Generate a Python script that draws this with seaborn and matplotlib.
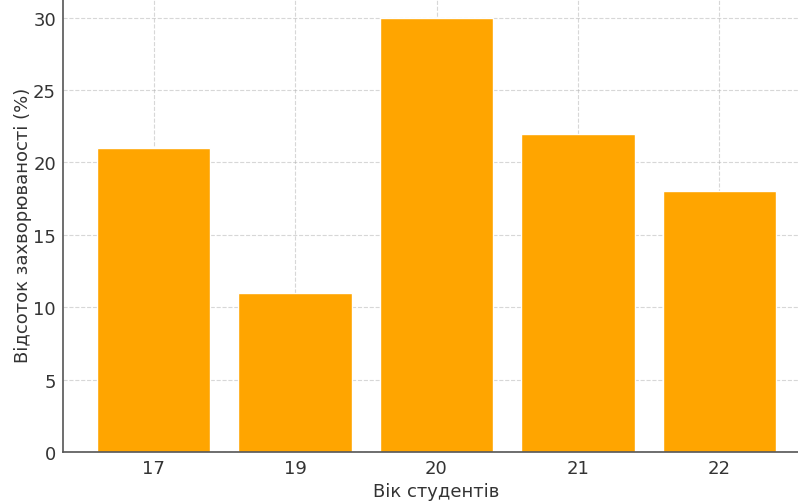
import matplotlib
matplotlib.use("Agg")
import matplotlib.pyplot as plt
import seaborn as sns
import pandas as pd

ages = ["17", "19", "20", "21", "22"]
rates = [21, 11, 30, 22, 18]

df = pd.DataFrame({"age": ages, "rate": rates})

sns.set_style("white")
plt.rcParams["font.family"] = ["DejaVu Sans"]

fig = plt.figure(figsize=(7.98, 5.02), dpi=100)
# the source image is a crop: the axes runs past the top and right edges
ax = fig.add_axes([63 / 798, 49 / 502, 747 / 798, 456 / 502])

sns.barplot(data=df, x="age", y="rate", color="orange", saturation=1,
            width=0.8, ax=ax)

ax.set_ylim(0, 31.5)
ax.set_xlim(-0.64, 4.64)
ax.set_yticks([0, 5, 10, 15, 20, 25, 30])
ax.grid(True, linestyle="--", color="#b0b0b0", linewidth=0.8, alpha=0.5)
ax.set_axisbelow(True)

ax.set_xlabel("Вік студентів", fontsize=13, color="#333333", labelpad=4)
ax.set_ylabel("Відсоток захворюваності (%)", fontsize=13, color="#333333",
              labelpad=1)
ax.tick_params(axis="both", direction="in", length=3.5, labelsize=13,
               colors="#333333", pad=5)

for side in ["top", "right"]:
    ax.spines[side].set_visible(False)
for side in ["left", "bottom"]:
    ax.spines[side].set_color("#555555")
    ax.spines[side].set_linewidth(1.2)

fig.savefig("out.png", dpi=100)
